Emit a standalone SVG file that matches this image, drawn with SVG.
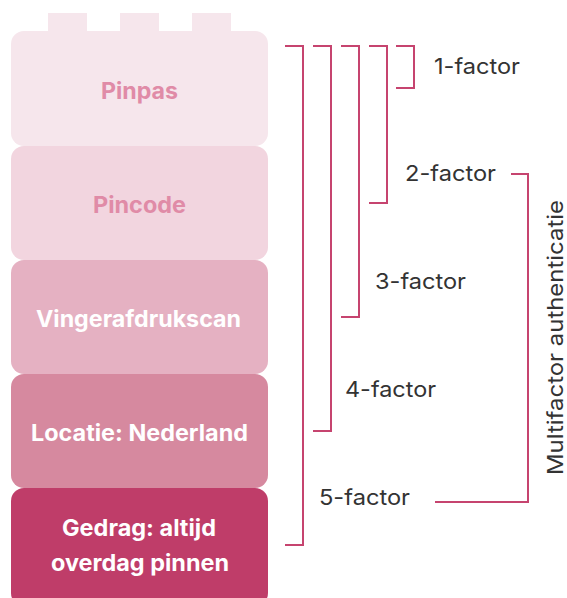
<svg xmlns="http://www.w3.org/2000/svg" width="567" height="598" viewBox="0 0 567 598">
<style>
.lbl{font-family:Inter,"Liberation Sans",sans-serif;font-weight:700;font-size:22.5px}
.f{font-family:Inter,"Liberation Sans",sans-serif;font-size:22px;fill:#333}
.br{fill:none;stroke:#c6446f;stroke-width:2}
</style>
<rect width="567" height="598" fill="#fff"/>
<g id="pinpas">
<rect x="48" y="13" width="39" height="20" fill="#f6e6ec"/>
<rect x="120" y="13" width="39" height="20" fill="#f6e6ec"/>
<rect x="192" y="13" width="39" height="20" fill="#f6e6ec"/>
<rect x="11" y="31" width="257" height="115" rx="13" fill="#f6e6ec"/>
<text class="lbl" x="101" y="99" textLength="77" lengthAdjust="spacingAndGlyphs" fill="#e08ba7">Pinpas</text>
</g>
<g id="pincode">
<rect x="11" y="146" width="257" height="114" rx="13" fill="#f2d5df"/>
<text class="lbl" x="93" y="213" textLength="93" lengthAdjust="spacingAndGlyphs" fill="#e08ba7">Pincode</text>
</g>
<g id="vingerafdrukscan">
<rect x="11" y="260" width="257" height="114" rx="13" fill="#e5b1c2"/>
<text class="lbl" x="36" y="327" textLength="205" lengthAdjust="spacingAndGlyphs" fill="#fff">Vingerafdrukscan</text>
</g>
<g id="locatie">
<rect x="11" y="374" width="257" height="114" rx="13" fill="#d6899f"/>
<text class="lbl" x="31" y="441" textLength="217" lengthAdjust="spacingAndGlyphs" fill="#fff">Locatie: Nederland</text>
</g>
<g id="gedrag">
<rect x="11" y="488" width="257" height="118" rx="13" fill="#bf3d69"/>
<text class="lbl" x="62" y="536" textLength="154" lengthAdjust="spacingAndGlyphs" fill="#fff">Gedrag: altijd</text>
<text class="lbl" x="51" y="571" textLength="178" lengthAdjust="spacingAndGlyphs" fill="#fff">overdag pinnen</text>
</g>
<g id="connectors">
<polyline class="br" points="285,46 303,46 303,545 285,545"/>
<polyline class="br" points="313,46 331,46 331,431 313,431"/>
<polyline class="br" points="341,46 359,46 359,317 341,317"/>
<polyline class="br" points="369,46 387,46 387,203 369,203"/>
<polyline class="br" points="396,46 414,46 414,88 396,88"/>
<polyline class="br" points="511,174 528,174 528,502 435,502"/>
</g>
<g id="labels">
<text class="f" x="434" y="74" textLength="86" lengthAdjust="spacingAndGlyphs">1-factor</text>
<text class="f" x="405" y="181" textLength="91" lengthAdjust="spacingAndGlyphs">2-factor</text>
<text class="f" x="375" y="289" textLength="91" lengthAdjust="spacingAndGlyphs">3-factor</text>
<text class="f" x="345" y="397" textLength="91" lengthAdjust="spacingAndGlyphs">4-factor</text>
<text class="f" x="319" y="505" textLength="91" lengthAdjust="spacingAndGlyphs">5-factor</text>
<text class="f" x="0" y="0" textLength="275" lengthAdjust="spacingAndGlyphs" transform="translate(563,475) rotate(-90)">Multifactor authenticatie</text>
</g>
</svg>
